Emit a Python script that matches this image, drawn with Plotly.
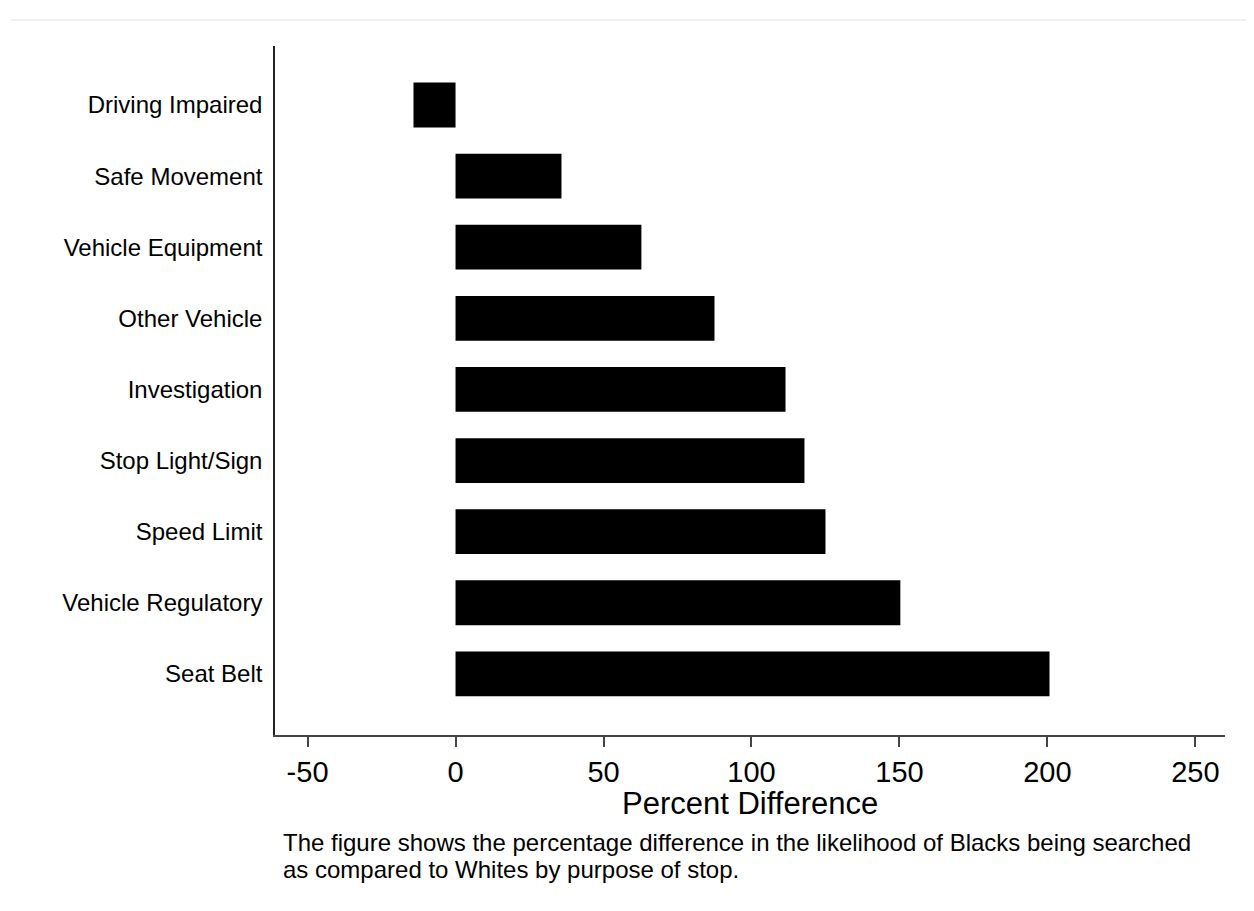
import plotly.graph_objects as go

categories = ["Seat Belt", "Vehicle Regulatory", "Speed Limit", "Stop Light/Sign",
              "Investigation", "Other Vehicle", "Vehicle Equipment", "Safe Movement",
              "Driving Impaired"]
values = [200.7, 150.3, 125.0, 117.9, 111.5, 87.5, 62.8, 35.8, -14.2]
x_ticks = [-50, 0, 50, 100, 150, 200, 250]
caption_lines = ["The figure shows the percentage difference in the likelihood of Blacks being searched",
                 "as compared to Whites by purpose of stop."]

FONT = "Liberation Sans, Arial, sans-serif"

fig = go.Figure(go.Bar(
    x=values, y=categories, orientation="h",
    marker=dict(color="black", line=dict(width=0)),
    width=0.63,
))

annotations = [dict(
    text="Percent Difference", xref="paper", yref="paper", x=0.5, y=-0.099,
    xanchor="center", yanchor="middle", showarrow=False,
    font=dict(size=31, family=FONT, color="black"),
)]
for i, line in enumerate(caption_lines):
    annotations.append(dict(
        text=line, xref="paper", yref="paper", x=0.0063, y=-0.156 - i * 0.0392,
        xanchor="left", yanchor="middle", align="left", showarrow=False,
        font=dict(size=24, family=FONT, color="black"),
    ))

fig.update_layout(
    width=1246, height=895,
    margin=dict(l=267, r=29, t=38, b=168),
    paper_bgcolor="white", plot_bgcolor="white",
    font=dict(family=FONT, color="black"),
    showlegend=False,
    xaxis=dict(
        range=[-61, 260], tickvals=x_ticks, ticktext=[str(t) for t in x_ticks],
        showgrid=False, zeroline=False,
        showline=True, linecolor="#444", linewidth=1.5,
        ticks="outside", ticklen=10, tickcolor="#444", tickwidth=1.5,
        tickfont=dict(size=29, family=FONT),
    ),
    yaxis=dict(
        range=[-0.86, 8.83],
        showgrid=False, zeroline=False,
        showline=True, linecolor="#222", linewidth=1.5,
        ticks="", ticklabelstandoff=6,
        tickfont=dict(size=24, family=FONT),
    ),
    annotations=annotations,
    shapes=[dict(type="line", xref="paper", yref="paper", x0=-0.278, x1=1.03,
                 y0=1.0 + 26/689, y1=1.0 + 26/689, line=dict(color="#e8eded", width=1.5))],
)

fig.write_html("out.html")
